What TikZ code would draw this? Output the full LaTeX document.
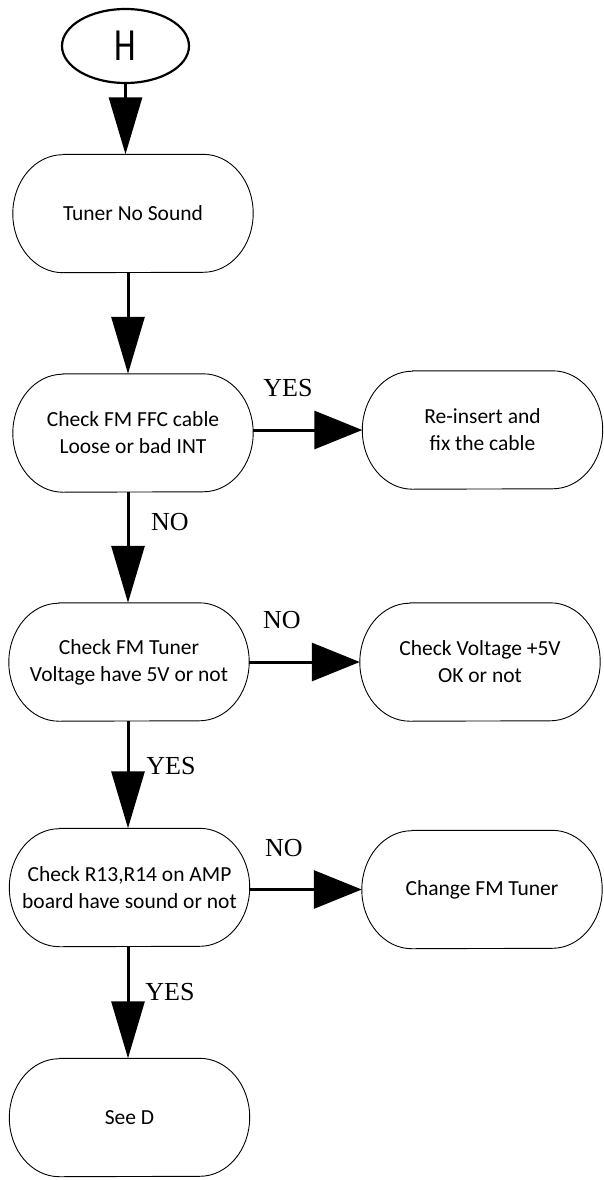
\documentclass[tikz,border=0pt]{standalone}
\usepackage{fontspec}
\setmainfont{Liberation Serif}
\newfontfamily\boxfont{Carlito}
\usetikzlibrary{shapes.geometric,arrows.meta}

\begin{document}
\begin{tikzpicture}[x=1pt,y=-1pt,
  stadium/.style={minimum width=240pt,minimum height=118pt,inner sep=0pt,align=center,
    font=\boxfont\fontsize{21.5}{27}\selectfont},
  outline/.style={line width=0.9pt},
  vflow/.style={line width=3pt,-{Triangle[length=57pt,width=33pt]}},
  hflow/.style={line width=3pt,-{Triangle[length=48pt,width=38pt]}},
  answer/.style={font=\fontsize{26}{30}\selectfont,inner sep=0pt}]
\useasboundingbox (0,0) rectangle (603,1180);
\fill[white] (0,0) rectangle (603,1180);

% entry connector
\node[ellipse,draw,line width=2.2pt,minimum width=127pt,minimum height=74pt,
  inner sep=0pt,font=\boxfont\fontsize{46}{50}\selectfont] (start) at (125.5,46)
  {\raisebox{-6pt}{\scalebox{0.75}[1]{H}}};

% process boxes
\node[stadium] (b1) at (133,213.5) {Tuner No Sound};
\node[stadium] (b2) at (133,433) {Check FM FFC cable\\Loose or bad INT};
\node[stadium] (r1) at (482.5,430) {Re-insert and\\fix the cable};
\node[stadium] (b3) at (129,662) {Check FM Tuner\\Voltage have 5V or not};
\node[stadium] (r2) at (480,662) {Check Voltage +5V\\OK or not};
\node[stadium] (b4) at (129.5,887.5) {Check R13,R14 on AMP\\board have sound or not};
\node[stadium] (r3) at (482,889.5) {Change FM Tuner};
\node[stadium] (b5) at (129.5,1117.5) {See D};

% stadium outlines with half-elliptical ends
\foreach \n in {b1,b2,r1,b3,r2,b4,r3,b5}
  \draw[outline] ([xshift=50pt]\n.north west) -- ([xshift=-50pt]\n.north east)
    arc[start angle=-90,end angle=90,x radius=50,y radius=59]
    -- ([xshift=50pt]\n.south west)
    arc[start angle=90,end angle=270,x radius=50,y radius=59] -- cycle;

% main flow downwards
\draw[vflow] (start.south) -- (start.south |- b1.north);
\draw[vflow] ([xshift=-5pt]b1.south) -- ([xshift=-5pt]b2.north);
\draw[vflow] ([xshift=-5pt]b2.south) -- ([xshift=-1pt]b3.north);
\draw[vflow] ([xshift=-1pt]b3.south) -- ([xshift=-1.5pt]b4.north);
\draw[vflow] ([xshift=-1.5pt]b4.south) -- ([xshift=-1.5pt]b5.north);

% side branches
\draw[hflow] (b2.east |- r1.west) -- (r1.west);
\draw[hflow] (b3.east) -- (r2.west);
\draw[hflow] (b4.east |- r3.west) -- (r3.west);

% decision answers
\node[answer] (yes1) at (288,388) {YES};
\node[answer] (no1) at (170,522) {NO};
\node[answer] (no2) at (282,620) {NO};
\node[answer] (yes2) at (171,766) {YES};
\node[answer] (no3) at (284,848) {NO};
\node[answer] (yes3) at (170,992) {YES};
\end{tikzpicture}
\end{document}
